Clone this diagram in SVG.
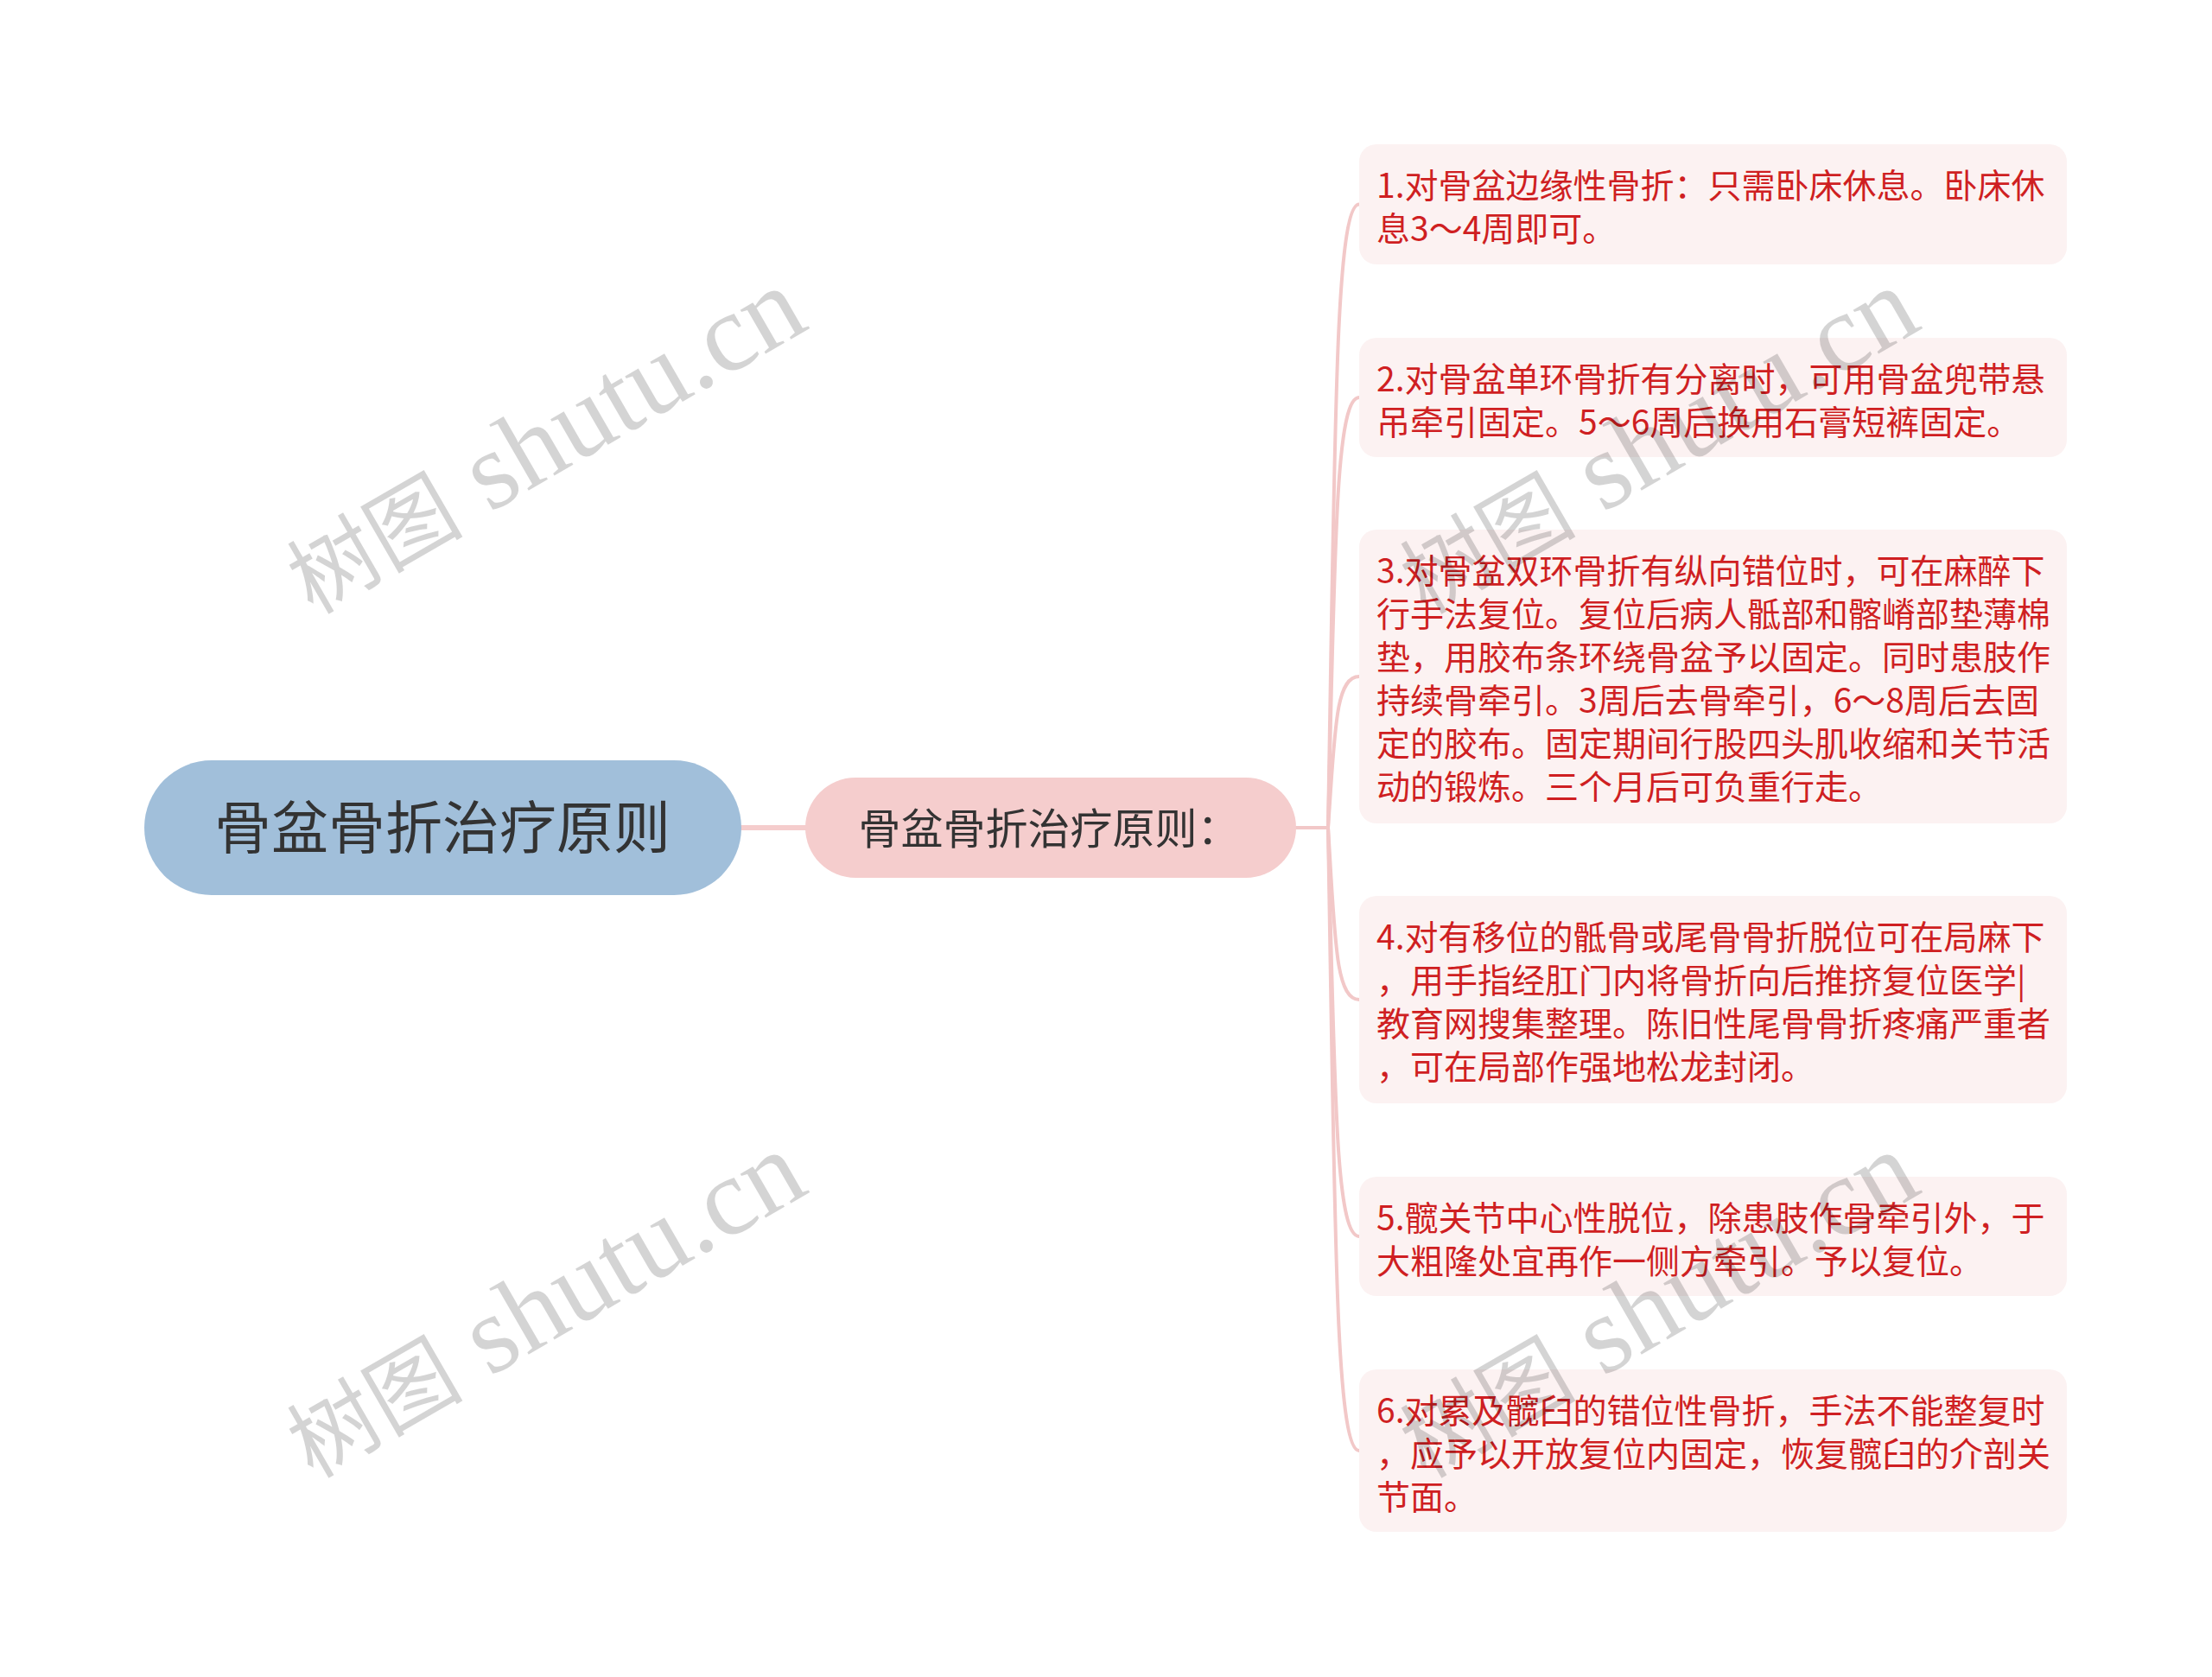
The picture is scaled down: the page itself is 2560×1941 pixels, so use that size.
<svg xmlns="http://www.w3.org/2000/svg" width="2560" height="1941" viewBox="0 0 2560 1941">
<style>
.bg{fill:#ffffff}
.root{fill:#a1bfda}
.sub{fill:#f5cdcd}
.leaf{fill:#fcf2f2}
.t-root{font-family:"Noto Sans CJK SC","Noto Sans",sans-serif;font-size:66px;fill:#333333;text-anchor:middle}
.t-sub{font-family:"Noto Sans CJK SC","Noto Sans",sans-serif;font-size:49px;fill:#333333;text-anchor:middle}
.t-leaf{font-family:"Noto Sans CJK SC","Noto Sans",sans-serif;font-size:39px;fill:#cf1f22}
.conn{fill:none;stroke:#f2c8c8;stroke-width:4;stroke-linecap:round}
.wm{font-family:"Liberation Serif","Noto Sans CJK SC",serif;font-size:128px;fill:#000000;fill-opacity:0.17}
.wm-cjk{font-size:102px}
</style>
<rect class="bg" x="0" y="0" width="2560" height="1941"/>
<g id="connectors">
<path class="conn" d="M 858 958 L 932 958" style="stroke:#f5cdcd;stroke-width:6"/>
<path class="conn" d="M 1500 958 L 1537 958"/>
<path class="conn" d="M 1537 958 C 1545 503.5, 1545 236.5, 1573 236.5"/>
<path class="conn" d="M 1537 958 C 1545 644, 1545 460, 1573 460"/>
<path class="conn" d="M 1537 958 C 1545 848, 1545 783, 1573 783"/>
<path class="conn" d="M 1537 958 C 1545 1083, 1545 1157, 1573 1157"/>
<path class="conn" d="M 1537 958 C 1545 1256, 1545 1431, 1573 1431"/>
<path class="conn" d="M 1537 958 C 1545 1412, 1545 1679, 1573 1679"/>
</g>
<g id="root">
<rect class="root" x="167" y="880" width="691" height="156" rx="78" ry="78"/>
<text class="t-root" x="512" y="982">骨盆骨折治疗原则</text>
</g>
<g id="sub">
<rect class="sub" x="932" y="900" width="568" height="116" rx="58" ry="58"/>
<text class="t-sub" x="1214" y="977">骨盆骨折治疗原则：</text>
</g>
<g id="leaf1">
<rect class="leaf" x="1573" y="167" width="819" height="139" rx="20" ry="20"/>
<text class="t-leaf"><tspan x="1593" y="229">1.对骨盆边缘性骨折：只需卧床休息。卧床休</tspan><tspan x="1593" y="279">息3～4周即可。</tspan></text>
</g>
<g id="leaf2">
<rect class="leaf" x="1573" y="391" width="819" height="138" rx="20" ry="20"/>
<text class="t-leaf"><tspan x="1593" y="453">2.对骨盆单环骨折有分离时，可用骨盆兜带悬</tspan><tspan x="1593" y="503">吊牵引固定。5～6周后换用石膏短裤固定。</tspan></text>
</g>
<g id="leaf3">
<rect class="leaf" x="1573" y="613" width="819" height="340" rx="20" ry="20"/>
<text class="t-leaf"><tspan x="1593" y="675">3.对骨盆双环骨折有纵向错位时，可在麻醉下</tspan><tspan x="1593" y="725">行手法复位。复位后病人骶部和髂嵴部垫薄棉</tspan><tspan x="1593" y="775">垫，用胶布条环绕骨盆予以固定。同时患肢作</tspan><tspan x="1593" y="825">持续骨牵引。3周后去骨牵引，6～8周后去固</tspan><tspan x="1593" y="875">定的胶布。固定期间行股四头肌收缩和关节活</tspan><tspan x="1593" y="925">动的锻炼。三个月后可负重行走。</tspan></text>
</g>
<g id="leaf4">
<rect class="leaf" x="1573" y="1037" width="819" height="240" rx="20" ry="20"/>
<text class="t-leaf"><tspan x="1593" y="1099">4.对有移位的骶骨或尾骨骨折脱位可在局麻下</tspan><tspan x="1593" y="1149">，用手指经肛门内将骨折向后推挤复位医学|</tspan><tspan x="1593" y="1199">教育网搜集整理。陈旧性尾骨骨折疼痛严重者</tspan><tspan x="1593" y="1249">，可在局部作强地松龙封闭。</tspan></text>
</g>
<g id="leaf5">
<rect class="leaf" x="1573" y="1362" width="819" height="138" rx="20" ry="20"/>
<text class="t-leaf"><tspan x="1593" y="1424">5.髋关节中心性脱位，除患肢作骨牵引外，于</tspan><tspan x="1593" y="1474">大粗隆处宜再作一侧方牵引。予以复位。</tspan></text>
</g>
<g id="leaf6">
<rect class="leaf" x="1573" y="1585" width="819" height="188" rx="20" ry="20"/>
<text class="t-leaf"><tspan x="1593" y="1647">6.对累及髋臼的错位性骨折，手法不能整复时</tspan><tspan x="1593" y="1697">，应予以开放复位内固定，恢复髋臼的介剖关</tspan><tspan x="1593" y="1747">节面。</tspan></text>
</g>
<g id="watermarks">
<text class="wm" transform="translate(362 712) rotate(-30)"><tspan class="wm-cjk">树图</tspan> shutu.cn</text>
<text class="wm" transform="translate(1650 712) rotate(-30)"><tspan class="wm-cjk">树图</tspan> shutu.cn</text>
<text class="wm" transform="translate(362 1712) rotate(-30)"><tspan class="wm-cjk">树图</tspan> shutu.cn</text>
<text class="wm" transform="translate(1650 1712) rotate(-30)"><tspan class="wm-cjk">树图</tspan> shutu.cn</text>
</g>
</svg>
